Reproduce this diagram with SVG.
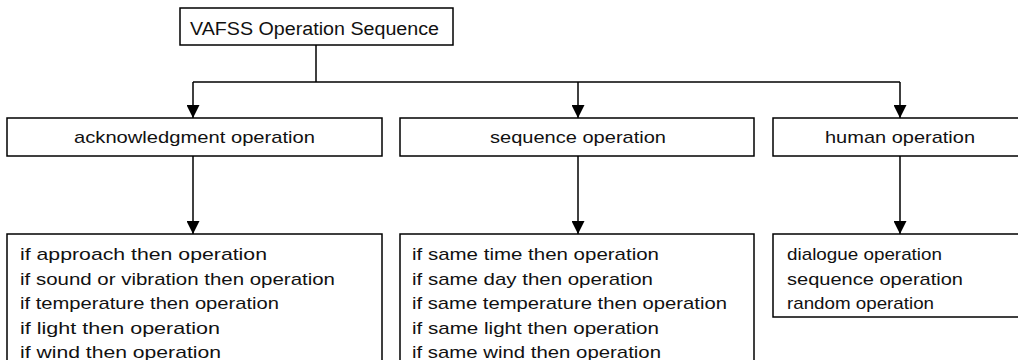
<svg xmlns="http://www.w3.org/2000/svg" width="1018" height="360" viewBox="0 0 1018 360">
<style>
.box{fill:#fff;stroke:#000;stroke-width:1.5}
.t{font-family:"Liberation Sans",Arial,sans-serif;font-size:17px;fill:#111}
.title{font-size:18px}
.ln{fill:none;stroke:#000;stroke-width:1.5}
</style>
<defs>
<marker id="ah" markerUnits="userSpaceOnUse" markerWidth="13" markerHeight="13" refX="13" refY="6.5" orient="auto">
<path d="M0,0 L13,6.5 L0,13 Z" fill="#000"/>
</marker>
</defs>
<rect width="1018" height="360" fill="#fff"/>
<g id="connectors">
<path class="ln" d="M316,45 V82"/>
<path class="ln" d="M193,82 H900"/>
<path class="ln" d="M193,82 V118" marker-end="url(#ah)"/>
<path class="ln" d="M578,82 V118" marker-end="url(#ah)"/>
<path class="ln" d="M900,82 V118" marker-end="url(#ah)"/>
<path class="ln" d="M193,156 V234" marker-end="url(#ah)"/>
<path class="ln" d="M578,156 V234" marker-end="url(#ah)"/>
<path class="ln" d="M900,156 V234" marker-end="url(#ah)"/>
</g>
<g id="root">
<rect class="box" x="180" y="8" width="273" height="37"/>
<text class="t title" x="190" y="35" textLength="249" lengthAdjust="spacingAndGlyphs">VAFSS Operation Sequence</text>
</g>
<g id="ack">
<rect class="box" x="7" y="118" width="375" height="38"/>
<text class="t" x="74" y="143" textLength="241" lengthAdjust="spacingAndGlyphs">acknowledgment operation</text>
</g>
<g id="seq">
<rect class="box" x="400" y="118" width="354" height="38"/>
<text class="t" x="490" y="143" textLength="176" lengthAdjust="spacingAndGlyphs">sequence operation</text>
</g>
<g id="human">
<rect class="box" x="773" y="118" width="260" height="38"/>
<text class="t" x="825" y="143" textLength="150" lengthAdjust="spacingAndGlyphs">human operation</text>
</g>
<g id="ack-list">
<rect class="box" x="7" y="234" width="375" height="140"/>
<text class="t" x="20" y="260" textLength="247" lengthAdjust="spacingAndGlyphs">if approach then operation</text>
<text class="t" x="20" y="284.5" textLength="315" lengthAdjust="spacingAndGlyphs">if sound or vibration then operation</text>
<text class="t" x="20" y="309" textLength="259" lengthAdjust="spacingAndGlyphs">if temperature then operation</text>
<text class="t" x="20" y="333.5" textLength="200" lengthAdjust="spacingAndGlyphs">if light then operation</text>
<text class="t" x="20" y="358" textLength="201" lengthAdjust="spacingAndGlyphs">if wind then operation</text>
</g>
<g id="seq-list">
<rect class="box" x="400" y="234" width="354" height="140"/>
<text class="t" x="412" y="260" textLength="247" lengthAdjust="spacingAndGlyphs">if same time then operation</text>
<text class="t" x="412" y="284.5" textLength="241" lengthAdjust="spacingAndGlyphs">if same day then operation</text>
<text class="t" x="412" y="309" textLength="315" lengthAdjust="spacingAndGlyphs">if same temperature then operation</text>
<text class="t" x="412" y="333.5" textLength="247" lengthAdjust="spacingAndGlyphs">if same light then operation</text>
<text class="t" x="412" y="358" textLength="249" lengthAdjust="spacingAndGlyphs">if same wind then operation</text>
</g>
<g id="human-list">
<rect class="box" x="773" y="234" width="260" height="83"/>
<text class="t" x="787" y="260" textLength="155" lengthAdjust="spacingAndGlyphs">dialogue operation</text>
<text class="t" x="787" y="284.5" textLength="176" lengthAdjust="spacingAndGlyphs">sequence operation</text>
<text class="t" x="787" y="309" textLength="147" lengthAdjust="spacingAndGlyphs">random operation</text>
</g>
</svg>
